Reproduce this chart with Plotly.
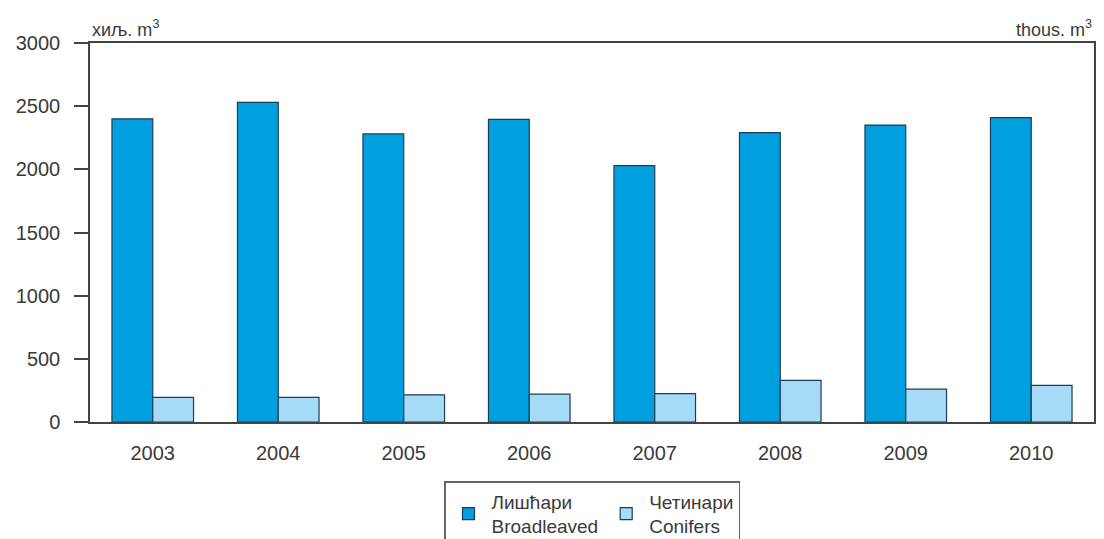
import plotly.graph_objects as go

years = ["2003", "2004", "2005", "2006", "2007", "2008", "2009", "2010"]
broadleaved = [2400, 2530, 2280, 2395, 2030, 2290, 2350, 2410]
conifers = [195, 195, 215, 220, 225, 330, 260, 290]
y_ticks = [0, 500, 1000, 1500, 2000, 2500, 3000]

font_family = "Liberation Sans, Arial, sans-serif"
outline = "#1d3e52"
text_color = "#3a3a3a"

fig = go.Figure()
fig.add_trace(go.Bar(
    x=years, y=broadleaved, name="Лишћари<br>Broadleaved",
    marker=dict(color="#009fe0", line=dict(color=outline, width=1.2)),
))
fig.add_trace(go.Bar(
    x=years, y=conifers, name="Четинари<br>Conifers",
    marker=dict(color="#a6dbf7", line=dict(color=outline, width=1.2)),
))

fig.update_layout(
    width=1096, height=531,
    margin=dict(l=80, r=8, t=35, b=117),
    paper_bgcolor="white", plot_bgcolor="white",
    barmode="group", bargap=0.35, bargroupgap=0,
    font=dict(family=font_family, size=20, color=text_color),
    showlegend=True,
    legend=dict(
        orientation="h", x=0.5, xanchor="center",
        yref="container", y=1 - 473 / 531, yanchor="top",
        bordercolor="#666666", borderwidth=1.5,
        font=dict(size=19, color=text_color),
        itemwidth=36, tracegroupgap=0,
    ),
    xaxis=dict(
        showline=True, linecolor="#444444", linewidth=1.5, mirror=True,
        ticks="", showgrid=False, tickfont=dict(size=20),
        ticklabelstandoff=12,
    ),
    yaxis=dict(
        range=[0, 3000], tickvals=y_ticks,
        showline=True, linecolor="#444444", linewidth=1.5, mirror=True,
        ticks="outside", ticklen=14, tickcolor="#444444", tickwidth=1.5,
        showgrid=False, zeroline=False, tickfont=dict(size=20),
        ticklabelstandoff=10,
    ),
    annotations=[
        dict(text="хиљ. m<sup>3</sup>", x=0, y=1.0, xref="paper", yref="paper",
             xanchor="left", yanchor="bottom", showarrow=False,
             font=dict(size=18, color=text_color), yshift=1),
        dict(text="thous. m<sup>3</sup>", x=1, y=1.0, xref="paper", yref="paper",
             xanchor="right", yanchor="bottom", showarrow=False,
             font=dict(size=18, color=text_color), yshift=1),
    ],
)

fig.write_html("out.html")
